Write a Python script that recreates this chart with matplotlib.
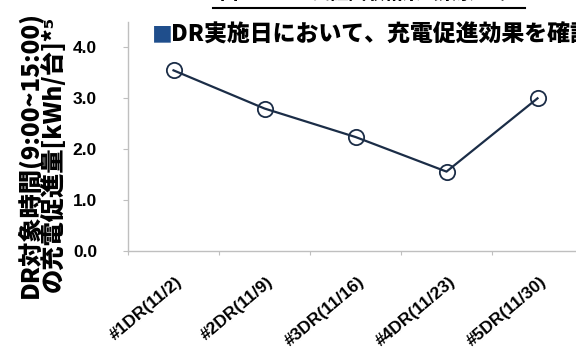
import matplotlib
matplotlib.use("Agg")
import matplotlib.pyplot as plt
from matplotlib.lines import Line2D

plt.rcParams['font.family'] = ['Noto Sans CJK JP', 'DejaVu Sans']

categories = ["#1DR(11/2)", "#2DR(11/9)", "#3DR(11/16)", "#4DR(11/23)", "#5DR(11/30)"]
values = [3.55, 2.80, 2.24, 1.56, 3.00]
yticks = [0.0, 1.0, 2.0, 3.0, 4.0]

W, H = 576, 350
PX = 72 / 100  # points per pixel at 100 dpi
fig = plt.figure(figsize=(W / 100, H / 100), dpi=100)

# axes extend a little beyond the right edge of the figure
left, right, bottom, top = 128, 583, 251, 22
ax = fig.add_axes([left / W, 1 - bottom / H, (right - left) / W, (bottom - top) / H])

x = list(range(len(categories)))
line_color = "#1B2D47"
ax.plot(x, values, color=line_color, lw=1.6, marker="o", markersize=11,
        markerfacecolor="none", markeredgecolor=line_color, markeredgewidth=1.3,
        zorder=3, clip_on=False)

ax.set_xlim(-0.5, len(categories) - 0.5)
ax.set_ylim(0, 4.5)

axis_grey = "#BFBFBF"
for s in ["top", "right"]:
    ax.spines[s].set_visible(False)
for s in ["left", "bottom"]:
    ax.spines[s].set_color(axis_grey)
    ax.spines[s].set_linewidth(1.0)

latin = ['Liberation Sans', 'DejaVu Sans']
ax.set_yticks(yticks)
ax.set_yticklabels([f"{v:.1f}" for v in yticks], fontsize=12.5, fontweight="bold",
                   family=latin)
ax.tick_params(axis="y", length=5 * PX, color=axis_grey, pad=26 * PX)

# category boundaries carry tick marks, labels sit under the centres
ax.set_xticks([i - 0.5 for i in range(len(categories) + 1)])
ax.set_xticklabels([])
ax.tick_params(axis="x", length=4 * PX, color=axis_grey)
for i, lab in enumerate(categories):
    ax.annotate(lab, xy=(i, 0), xycoords=("data", "axes fraction"),
                xytext=(7 * PX, -29 * PX), textcoords="offset points",
                rotation=40, rotation_mode="anchor", ha="right", va="center",
                fontsize=12.5, fontweight="bold", family=latin)

# y-axis label, two centred lines
fig.text(41 / W, 1 - 154 / H, "DR対象時間(9:00~15:00)\nの充電促進量[kWh/台]*⁵",
         rotation=90, ha="center", va="center", multialignment="center",
         fontsize=17.5, fontweight="heavy", linespacing=0.9)

# headline across the plot area
fig.text(152 / W, 1 - 35 / H, "■", color="#1F4E8C", fontsize=15, fontweight="bold",
         ha="left", va="center")
fig.text(171 / W, 1 - 35 / H, "DR実施日において、充電促進効果を確認", color="black",
         fontsize=16.5, fontweight="heavy", ha="left", va="center")

# figure title, mostly above the top edge, underlined
fig.text(369 / W, 1 - 3 / H, "図7. EV DR実証試験結果（東京DR）", fontsize=13,
         fontweight="heavy", ha="center", va="bottom")
fig.add_artist(Line2D([213 / W, 525 / W], [1 - 8 / H, 1 - 8 / H],
                      transform=fig.transFigure, color="black", lw=1.5))

fig.savefig("out.png", dpi=100, facecolor="white")
